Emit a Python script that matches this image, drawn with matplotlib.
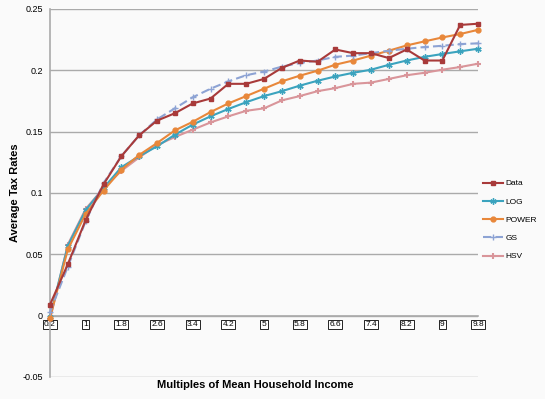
import matplotlib
matplotlib.use("Agg")
import matplotlib.pyplot as plt

plt.rcParams["font.family"] = ["Liberation Sans", "DejaVu Sans"]

# Multiples of mean household income (categories, step 0.4)
multiples = [round(0.2 + 0.4 * i, 1) for i in range(25)]

data = [0.009, 0.042, 0.078, 0.107, 0.130, 0.147, 0.159, 0.165, 0.173, 0.177,
        0.189, 0.189, 0.193, 0.202, 0.208, 0.207, 0.217, 0.214, 0.214, 0.210,
        0.217, 0.208, 0.208, 0.237, 0.238]
log_fit = [-0.001, 0.057, 0.086, 0.104, 0.121, 0.130, 0.138, 0.1475, 0.1557, 0.1625,
           0.1685, 0.174, 0.179, 0.183, 0.1875, 0.1915, 0.195, 0.198, 0.2005, 0.2045,
           0.208, 0.211, 0.2133, 0.2155, 0.2176]
power_fit = [-0.002, 0.054, 0.083, 0.102, 0.119, 0.131, 0.1407, 0.151, 0.158, 0.166,
             0.173, 0.179, 0.185, 0.191, 0.1956, 0.1997, 0.2046, 0.208, 0.212, 0.216,
             0.2203, 0.2236, 0.2268, 0.2296, 0.233]
gs_fit = [0.003, 0.040, 0.077, 0.108, 0.130, 0.147, 0.160, 0.169, 0.178, 0.185,
          0.191, 0.196, 0.199, 0.203, 0.206, 0.208, 0.211, 0.212, 0.214, 0.216,
          0.2176, 0.219, 0.220, 0.2214, 0.222]
hsv_fit = [-0.003, 0.058, 0.087, 0.104, 0.118, 0.129, 0.139, 0.1456, 0.1516, 0.1575,
           0.1625, 0.167, 0.169, 0.1755, 0.179, 0.183, 0.1855, 0.189, 0.190, 0.193,
           0.196, 0.198, 0.2005, 0.2027, 0.2054]

xs = list(range(len(multiples)))

fig = plt.figure(figsize=(5.45, 3.99), dpi=100)
fig.patch.set_facecolor("#FAFAFA")
ax = fig.add_axes([50 / 545, 1 - 377 / 399, 428 / 545, 368 / 399])
ax.set_facecolor("#FAFAFA")

ax.plot(xs, data, color="#A83A3A", lw=1.5, marker="s", ms=3, label="Data", clip_on=False, zorder=5)
ax.plot(xs, log_fit, color="#3BA3BE", lw=1.5, marker=(6, 2, 0), ms=4.5, mew=1, label="LOG", clip_on=False, zorder=4)
ax.plot(xs, power_fit, color="#E8873A", lw=1.5, marker="o", ms=3.5, label="POWER", clip_on=False, zorder=4)
ax.plot(xs, gs_fit, color="#8DA3D4", lw=1.5, ls=(0, (4, 2)), marker="+", ms=5, mew=1, label="GS", clip_on=False, zorder=4)
ax.plot(xs, hsv_fit, color="#D9959A", lw=1.5, marker="+", ms=4.5, mew=1.5, label="HSV", clip_on=False, zorder=3)

ax.set_xlim(0, 24)
ax.set_ylim(-0.05, 0.25)
ax.set_yticks([-0.05, 0, 0.05, 0.1, 0.15, 0.2, 0.25])
ax.set_yticklabels(["-0.05", "0", "0.05", "0.1", "0.15", "0.2", "0.25"], fontsize=6.5)
ax.grid(axis="y", color="#AAAAAA", lw=1)
ax.set_axisbelow(True)
ax.tick_params(axis="y", length=0, pad=5)

for s in ["top", "right"]:
    ax.spines[s].set_visible(False)
ax.spines["left"].set_color("#AAAAAA")
ax.spines["left"].set_linewidth(1.2)
ax.spines["bottom"].set_position(("data", 0))
ax.spines["bottom"].set_color("#AAAAAA")
ax.spines["bottom"].set_linewidth(1.2)

ax.set_xticks(xs[::2])
ax.set_xticklabels([f"{m:g}" for m in multiples[::2]], fontsize=6)
ax.tick_params(axis="x", length=0, pad=4)
for t in ax.get_xticklabels():
    t.set_bbox(dict(boxstyle="square,pad=0.15", fc="white", ec="black", lw=0.6))

fig.text(15 / 545, 1 - 193 / 399, "Average Tax Rates", rotation=90, fontsize=8,
         fontweight="bold", ha="center", va="center")
fig.text(255 / 545, 1 - 385 / 399, "Multiples of Mean Household Income", fontsize=8,
         fontweight="bold", ha="center", va="center")

fig.legend(loc="center left", bbox_to_anchor=(481 / 545, 1 - 220 / 399), frameon=False,
           fontsize=6, handlelength=2.4, labelspacing=1.25, handletextpad=0.3,
           borderpad=0.2, borderaxespad=0)

fig.savefig("out.png", dpi=100, facecolor=fig.get_facecolor())
